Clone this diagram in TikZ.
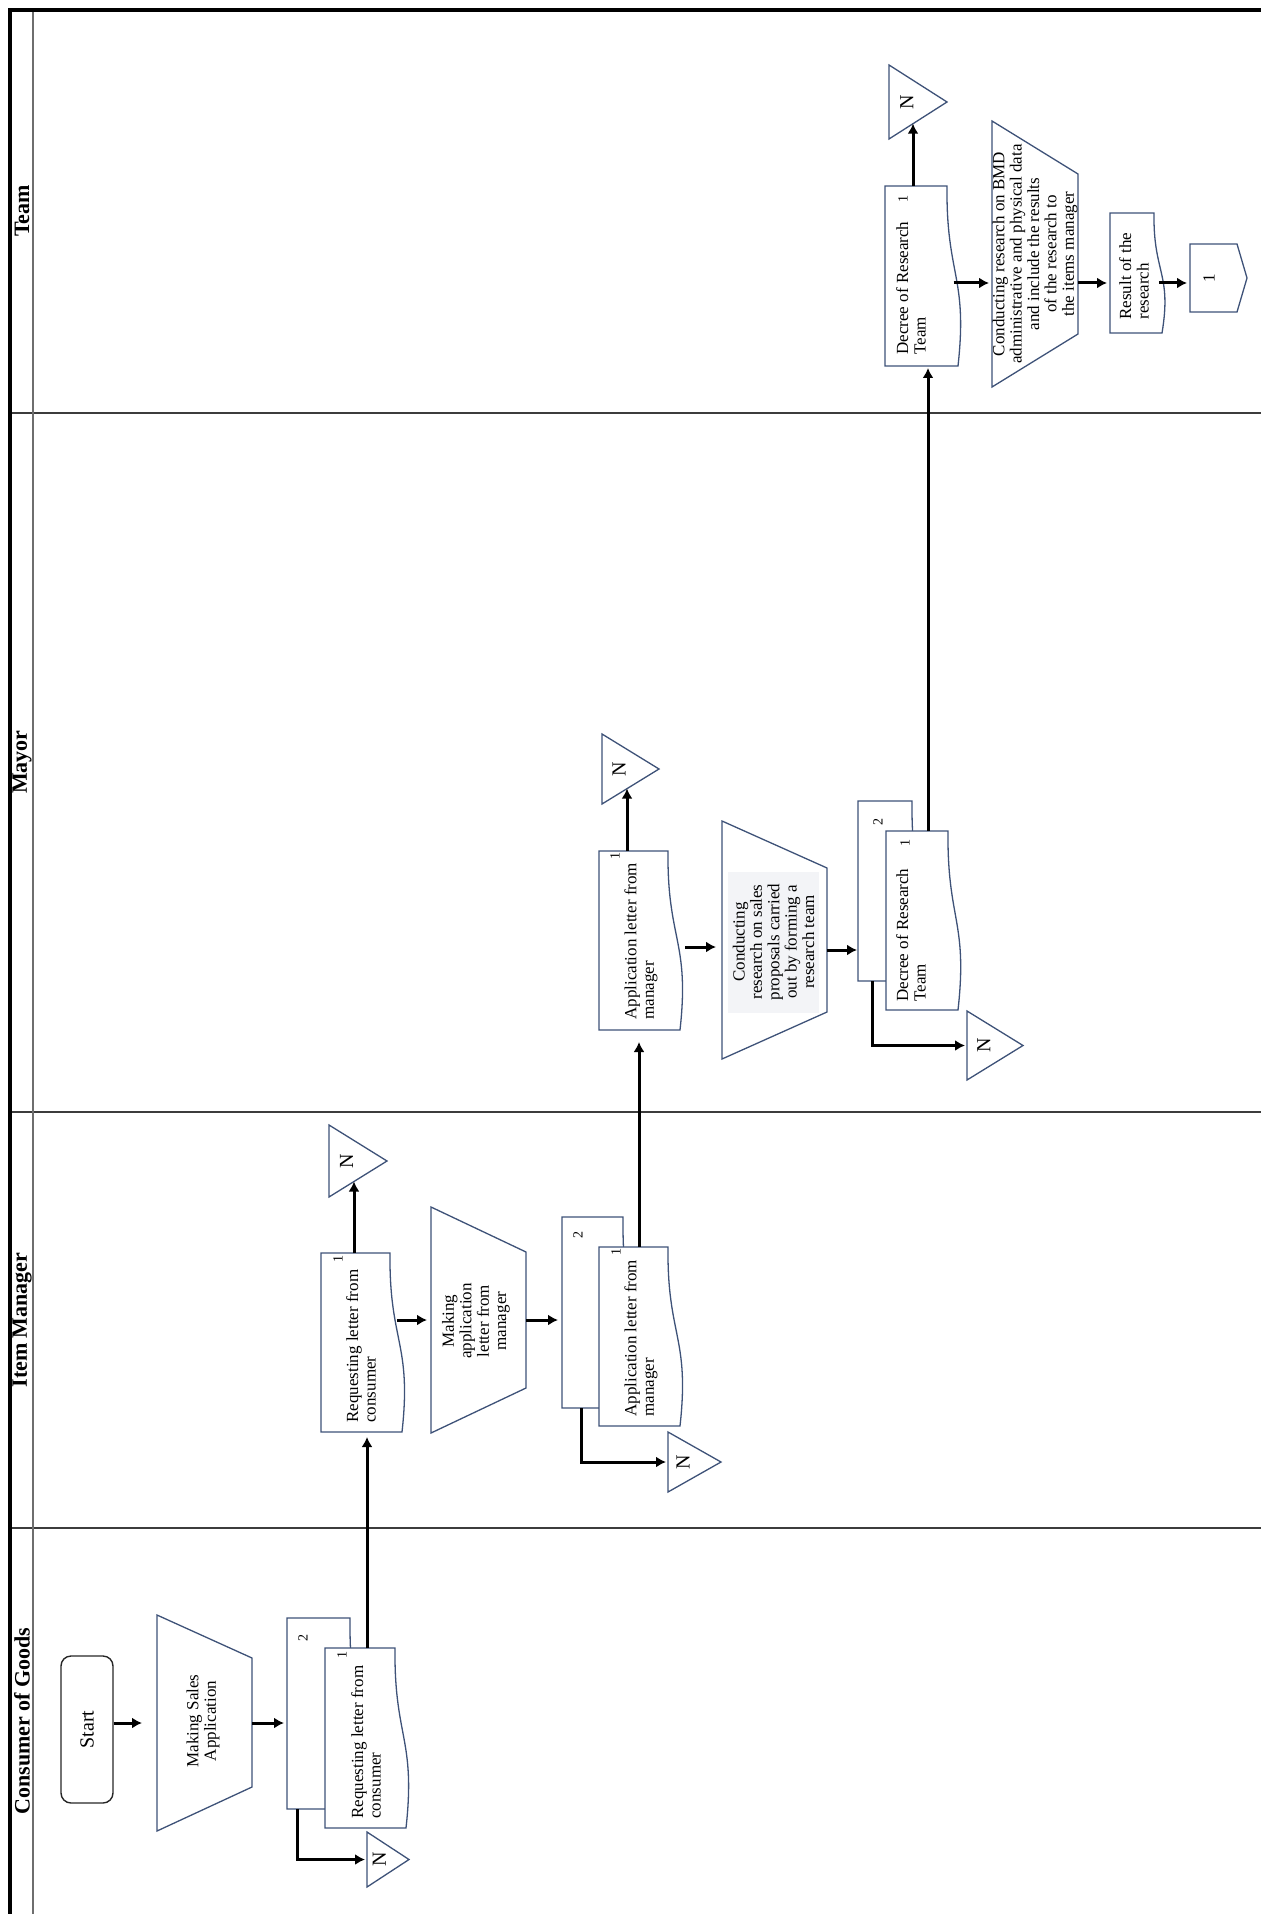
\documentclass[tikz,border=0pt]{standalone}
\usepackage{graphicx}
\usepackage{fontspec}
\setmainfont{Liberation Serif}
\usetikzlibrary{arrows.meta,calc,fit,shapes.geometric}
\definecolor{shpc}{RGB}{62,82,120}
\definecolor{lanec}{RGB}{60,60,60}
\definecolor{hdrc}{RGB}{110,110,110}
\definecolor{boxfill}{RGB}{243,244,247}

\tikzset{
  shp/.style={draw=shpc, line width=0.65pt, fill=white},
  fitbox/.style={inner sep=0pt, outer sep=0pt},
  arr/.style={line width=1.5pt, -{Latex[length=5pt,width=5.5pt]}},
  rtxt/.style={rotate=90, inner sep=0pt, font=\fontsize{8.5}{8.7}\selectfont},
  dtxt/.style={rtxt, align=left, anchor=west},
  ttxt/.style={rtxt, align=center},
  numtxt/.style={rotate=90, inner sep=0pt, font=\fontsize{7}{8}\selectfont},
  lanetitle/.style={rotate=90, inner sep=0pt, font=\bfseries\fontsize{11}{13}\selectfont},
  offstore/.style={isosceles triangle, isosceles triangle stretches, shape border rotate=0,
    draw=shpc, line width=0.65pt, fill=white, inner sep=1pt, outer sep=0pt,
    anchor=lower side, font=\fontsize{10}{12}\selectfont},
  startbox/.style={draw=black!85, line width=0.7pt, rounded corners=5pt, inner sep=0pt,
    font=\fontsize{10}{12}\selectfont}
}

% document shape: name, x0 (left), y0 (top), x1 (right of straight top), y1 (bottom), wave
\newcommand{\mydoc}[6]{%
  \draw[shp] (#2,#3) -- (#4,#3) .. controls ({#4-1},{(#3+#5)/2}) and ({#4+#6+10},{(#3+#5)/2}) .. ({#4+#6},#5) -- (#2,#5) -- cycle;
  \node[fitbox, fit={(#2,#3) ({#4+0.6*#6},#5)}] (#1) {};
}
% manual operation: name, xl, ytop-left, ybottom-left, xr, ytop-right, ybottom-right
\newcommand{\mytrap}[7]{%
  \draw[shp] (#2,#3) -- (#5,#6) -- (#5,#7) -- (#2,#4) -- cycle;
  \node[fitbox, fit={(#2,#3) (#5,#4)}] (#1) {};
}

\begin{document}
\begin{tikzpicture}[x=0.5pt, y=-0.5pt]
\useasboundingbox (0,0) rectangle (1261,1914);

% lanes
\draw[lanec, line width=1pt] (10,413) -- (1261,413);
\draw[lanec, line width=1pt] (10,1112) -- (1261,1112);
\draw[lanec, line width=1pt] (10,1528) -- (1261,1528);
\draw[hdrc, line width=0.75pt] (33,10) -- (33,1914);
\draw[black, line width=2pt] (1261,10) -- (10,10) -- (10,1914);

\node[lanetitle] (tteam) at (22,211) {Team};
\node[lanetitle] (tmayor) at (22,762) {Mayor};
\node[lanetitle] (tim) at (22,1320) {Item Manager};
\node[lanetitle] (tcons) at (22,1721) {Consumer of Goods};

% ---------------- Consumer of Goods
\node[startbox, minimum width=26pt, minimum height=73.5pt] (start) at (87,1729.5) {\rotatebox{90}{Start}};
\mytrap{cmtrap}{157}{1615}{1831}{252}{1658}{1787}
\node[ttxt] (cmtrapt) at (203,1721) {Making Sales\\Application};
\mydoc{cdoc2}{287}{1618}{350}{1809}{10}
\mydoc{cdoc1}{325}{1648}{395}{1828}{11}
\node[numtxt] (cdoc2n) at (303,1638) {2};
\node[numtxt] (cdoc1n) at (342,1655) {1};
\node[dtxt] (cdoc1t) at (366,1819) {Requesting letter from\\consumer};
\node[offstore, minimum height=21pt, minimum width=27.5pt] (ctri) at (367,1859.5) {\rotatebox{90}{N}};

\draw[arr, shorten >=7.5pt] (start.east |- cmtrap.west) -- (cmtrap.west);
\draw[arr, shorten >=1.5pt] (cmtrap.east) -- (cmtrap.east -| cdoc2.west);
\coordinate (c1up) at ([xshift=21pt]cdoc1.north west);
\draw[arr, shorten >=1pt] ([xshift=5pt]cdoc2.south west) |- (ctri.lower side);

% ---------------- Item Manager
\mydoc{imdoc1}{321}{1253}{390}{1432}{12}
\node[numtxt] (imdoc1n) at (338,1259) {1};
\node[dtxt] (imdoc1t) at (361,1423) {Requesting letter from\\consumer};
\node[offstore, minimum height=29pt, minimum width=36pt] (imtri) at (329,1161) {\rotatebox{90}{N}};
\coordinate (imup) at ([xshift=16.5pt]imdoc1.north west);
\coordinate (imtrie) at ($(imtri.right corner)!0.43!(imtri.apex)$);
\draw[arr] (imup) -- (imup |- imtrie);
\draw[arr, shorten >=2.5pt] (c1up) -- (c1up |- imdoc1.south);

\mytrap{imtrap}{431}{1207}{1433}{526}{1252}{1388}
\node[ttxt] (imtrapt) at (476,1321) {Making\\application\\letter from\\manager};
\draw[arr, shorten >=2pt] (imtrap.west -| imdoc1.east) -- (imtrap.west);

\mydoc{imdoc2}{562}{1217}{623}{1408}{10}
\mydoc{imdoc1b}{599}{1247}{668}{1426}{12}
\node[numtxt] (imdoc2n) at (578,1235) {2};
\node[numtxt] (imdoc1bn) at (616,1252) {1};
\node[dtxt] (imdoc1bt) at (641,1417) {Application letter from\\manager};
\draw[arr, shorten >=2pt] (imtrap.east) -- (imtrap.east -| imdoc2.west);
\node[offstore, minimum height=26.5pt, minimum width=30pt] (imtri2) at (668,1462) {\rotatebox{90}{N}};
\draw[arr, shorten >=1pt] ([xshift=9.5pt]imdoc2.south west) |- (imtri2.lower side);

% ---------------- Mayor
\mydoc{mdoc}{599}{851}{668}{1030}{12}
\node[numtxt] (mdocn) at (615,856) {1};
\node[dtxt] (mdoct) at (641,1020) {Application letter from\\manager};
\coordinate (imbup) at ([xshift=20pt]imdoc1b.north west);
\draw[arr, shorten >=6pt] (imbup) -- (imbup |- mdoc.south);
\node[offstore, minimum height=28.5pt, minimum width=35pt] (mtri) at (602,769) {\rotatebox{90}{N}};
\coordinate (mup) at ([xshift=14pt]mdoc.north west);
\coordinate (mtrie) at ($(mtri.right corner)!0.44!(mtri.apex)$);
\draw[arr] (mup) -- (mup |- mtrie);

\mytrap{mtrap}{722}{821}{1059}{827}{868}{1012}
\node[ttxt, fill=boxfill, minimum width=70.5pt, minimum height=45.5pt] (mtrapt) at (773.5,942) {Conducting\\research on sales\\proposals carried\\out by forming a\\research team};
\coordinate (mrow) at ([yshift=-3.5pt]mtrap.west);
\draw[arr, shorten <=5pt, shorten >=3pt] (mrow -| mdoc.east) -- (mrow);

\mydoc{mdoc2}{858}{801}{912}{981}{10}
\mydoc{mdoc1}{886}{831}{948}{1010}{10}
\node[numtxt] (mdoc2n) at (878,822) {2};
\node[numtxt] (mdoc1n) at (905,843) {1};
\node[dtxt] (mdoc1t) at (911,1002) {Decree of Research\\Team};
\coordinate (mrow2) at ([yshift=-5pt]mtrap.east);
\draw[arr, shorten >=0.5pt] (mrow2) -- (mrow2 -| mdoc2.west);
\node[offstore, minimum height=28pt, minimum width=34.5pt] (mtri2) at (967,1045.5) {\rotatebox{90}{N}};
\draw[arr, shorten >=1pt] ([xshift=7pt]mdoc2.south west) |- (mtri2.lower side);

% ---------------- Team
\mydoc{tdoc}{885}{186}{947}{366}{11}
\node[numtxt] (tdocn) at (903,199) {1};
\node[dtxt] (tdoct) at (911,355) {Decree of Research\\Team};
\coordinate (m1up) at ([xshift=21pt]mdoc1.north west);
\draw[arr, shorten >=1pt] (m1up) -- (m1up |- tdoc.south);
\node[offstore, minimum height=29pt, minimum width=37pt] (ttri) at (889,102) {\rotatebox{90}{N}};
\coordinate (tup) at ([xshift=14pt]tdoc.north west);
\coordinate (ttrie) at ($(ttri.right corner)!0.414!(ttri.apex)$);
\draw[arr] (tup) -- (tup |- ttrie);

\mytrap{ttrap}{992}{121}{387}{1078}{174}{334}
\node[ttxt] (ttrapt) at (1035,254) {Conducting research on BMD\\administrative and physical data\\and include the results\\of the research to\\the items manager};
\coordinate (trow) at ([yshift=-14.5pt]ttrap.west);
\draw[arr, shorten >=1.5pt] (trow -| tdoc.east) -- (trow);

\mydoc{tres}{1110}{213}{1154}{333}{8}
\node[dtxt] (trest) at (1134,320) {Result of the\\research};
\draw[arr, shorten >=1.5pt] (trow -| ttrap.east) -- (trow -| tres.west);

\draw[shp] (1190,244) -- (1237,244) -- (1247,278) -- (1237,312) -- (1190,312) -- cycle;
\node[fitbox, fit={(1190,244) (1247,312)}] (toff) {};
\node[numtxt, font=\fontsize{8.5}{9}\selectfont] (toffn) at (1209,278) {1};
\draw[arr, shorten >=1.5pt] (trow -| tres.east) -- (trow -| toff.west);
\end{tikzpicture}
\end{document}
